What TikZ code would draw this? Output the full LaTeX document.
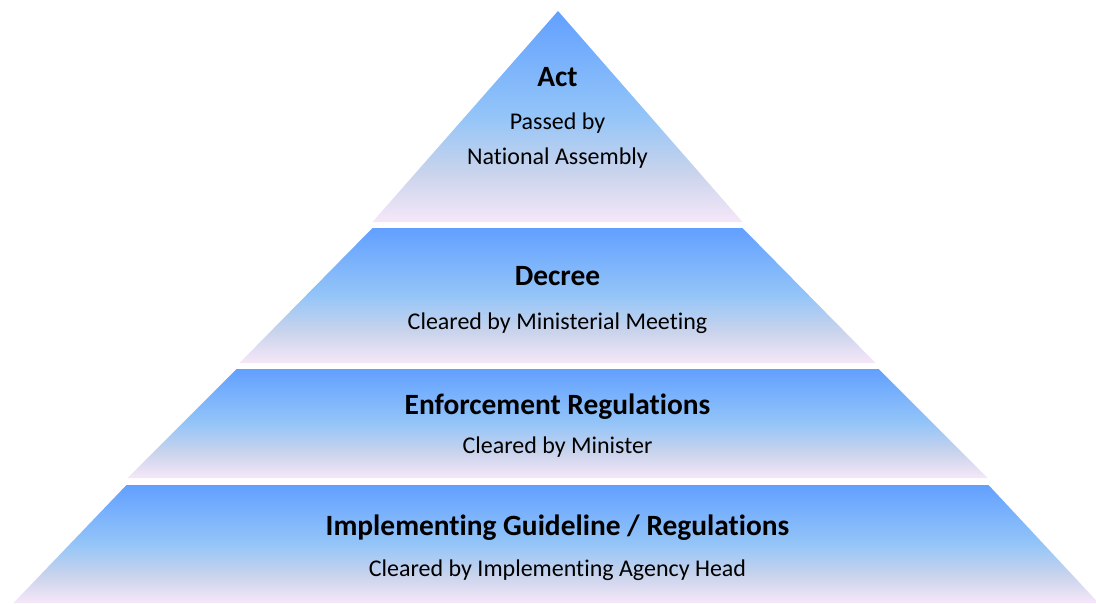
\documentclass[tikz,border=0pt]{standalone}
\usepackage{fontspec}
\setmainfont[Ligatures=NoCommon]{Carlito}
\definecolor{pblue}{HTML}{62A0FF}
\definecolor{pmid}{HTML}{94C5F8}
\definecolor{pgrey}{HTML}{C8D3EC}
\definecolor{plav}{HTML}{F6E7F8}
\pgfdeclareverticalshading{pyr}{100bp}{color(0bp)=(plav); color(25bp)=(plav); color(37bp)=(pgrey); color(50bp)=(pmid); color(75bp)=(pblue); color(100bp)=(pblue)}
\tikzset{
  tier/.style={shading=pyr, draw=none},
  ttl/.style={font=\fontsize{29.4}{32}\selectfont\bfseries, inner sep=0pt, anchor=base},
  sub/.style={font=\fontsize{24}{28}\selectfont, inner sep=0pt, anchor=base},
}
\begin{document}
\begin{tikzpicture}[x=1pt,y=-1pt]
\useasboundingbox (0,0) rectangle (1096,603);
\def\cx{557.5}
% tiers
\shade[tier] (558,11) -- (\cx+185,222) -- (\cx-185,222) -- cycle;
\shade[tier] (\cx-185,228) -- (\cx+185,228) -- (\cx+318,363) -- (\cx-318,363) -- cycle;
\shade[tier] (\cx-321,369) -- (\cx+321,369) -- (\cx+430,478) -- (\cx-430,478) -- cycle;
\shade[tier] (\cx-431,485) -- (\cx+431,485) -- (\cx+541,603) -- (\cx-544,603) -- cycle;
% texts
\node[ttl] (t1) at (\cx,86) {Act};
\node[sub] (s1a) at (\cx,129) {Passed by};
\node[sub] (s1b) at (\cx,164) {National Assembly};
\node[ttl] (t2) at (\cx,285) {Decree};
\node[sub] (s2) at (\cx,329) {Cleared by Ministerial Meeting};
\node[ttl] (t3) at (\cx,414) {Enforcement Regulations};
\node[sub] (s3) at (\cx,453) {Cleared by Minister};
\node[ttl] (t4) at (\cx,535) {Implementing Guideline / Regulations};
\node[sub] (s4) at (\cx,576) {Cleared by Implementing Agency Head};
\end{tikzpicture}
\end{document}
